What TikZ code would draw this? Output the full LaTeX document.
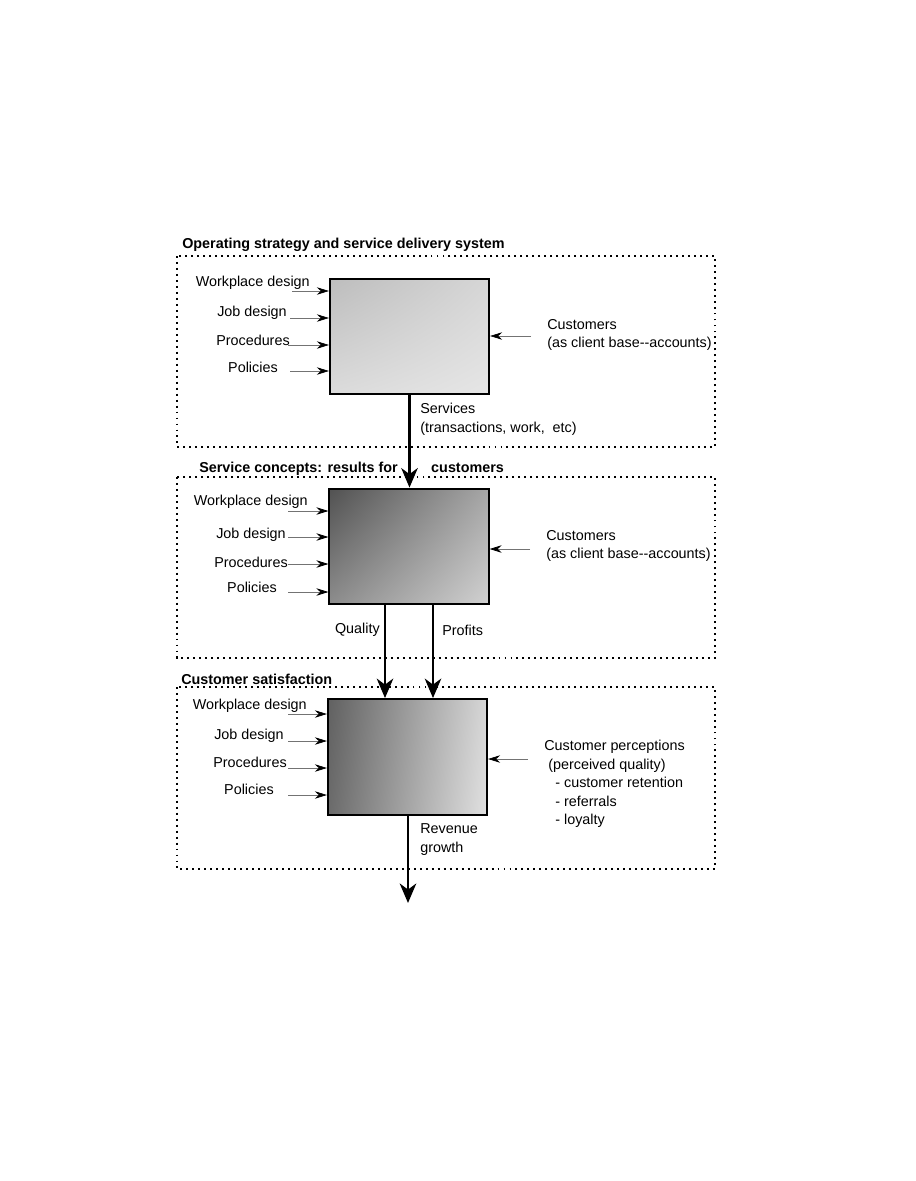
\documentclass[tikz,border=0pt]{standalone}
\usepackage{fontspec}
\setmainfont{Liberation Sans}
\usetikzlibrary{arrows.meta, positioning, calc, shadings}

\begin{document}
\begin{tikzpicture}[
  x=0.0235cm, y=-0.0235cm,
  panel/.style={draw, line width=0.75pt, dash pattern=on 1.3pt off 2.7pt},
  procbox/.style={draw, line width=1.4pt, minimum width=3.74cm, minimum height=2.72cm, inner sep=0pt},
  lbl/.style={inner sep=0pt, font=\fontsize{9.6}{12.4}\selectfont, align=left},
  title/.style={inner sep=0pt, font=\fontsize{9.6}{12.4}\selectfont\bfseries},
  feed/.style={-{Stealth[length=8pt, width=5pt, black]}, draw=black!55, line width=0.5pt},
  flow/.style={-{Stealth[length=13pt, width=11pt, inset=4pt]}, line width=1.8pt}
]
\useasboundingbox (0,0) rectangle (915,1181);

% panels
\draw[panel] (177,256) rectangle (715,447);
\draw[panel] (177,477) rectangle (715,658);
\draw[panel] (177,687) rectangle (715,869);
\node[title, anchor=base west] (opstitle) at (182,248) {Operating strategy and service delivery system};
\node[title, anchor=base west] (svc) at (199,472) {Service concepts: results for};
\node[title, base right=22pt of svc] (svc2) {customers};
\node[title, anchor=base west] (sattitle) at (181,684) {Customer satisfaction};

% boxes
\node[procbox, upper left=black!26, upper right=black!16, lower left=black!14, lower right=black!10] (ops) at (409.5,336.5) {};
\node[procbox, upper left=black!68, upper right=black!35, lower left=black!45, lower right=black!18] (concept) at (409,546.5) {};
\node[procbox, upper left=black!62, upper right=black!16, lower left=black!58, lower right=black!12] (satis) at (407.5,757) {};

% inputs, panel 1
\node[lbl, anchor=east] (wd1) at (310,283) {Workplace design};
\node[lbl, anchor=east] (jd1) at (287,313) {Job design};
\node[lbl, anchor=east] (pr1) at (290,340) {Procedures};
\node[lbl, anchor=east] (po1) at (278,367) {Policies};
\coordinate (wd1s) at (292,291);
\coordinate (jd1s) at (290,318);
\coordinate (pr1s) at (288,345);
\coordinate (po1s) at (290,371);
\draw[feed] (wd1s) -- (wd1s -| ops.west);
\draw[feed] (jd1s) -- (jd1s -| ops.west);
\draw[feed] (pr1s) -- (pr1s -| ops.west);
\draw[feed] (po1s) -- (po1s -| ops.west);
\node[lbl, anchor=west] (cust1) at (547,335) {Customers\\(as client base-{}-accounts)};
\coordinate (c1s) at (531,336);
\draw[feed] (c1s) -- (c1s -| ops.east);

% inputs, panel 2
\node[lbl, anchor=east] (wd2) at (308,502) {Workplace design};
\node[lbl, anchor=east] (jd2) at (286,535) {Job design};
\node[lbl, anchor=east] (pr2) at (288,562) {Procedures};
\node[lbl, anchor=east] (po2) at (277,587) {Policies};
\coordinate (wd2s) at (288,511);
\coordinate (jd2s) at (288,537);
\coordinate (pr2s) at (288,564);
\coordinate (po2s) at (288,592);
\draw[feed] (wd2s) -- (wd2s -| concept.west);
\draw[feed] (jd2s) -- (jd2s -| concept.west);
\draw[feed] (pr2s) -- (pr2s -| concept.west);
\draw[feed] (po2s) -- (po2s -| concept.west);
\node[lbl, anchor=west] (cust2) at (546,546) {Customers\\(as client base-{}-accounts)};
\coordinate (c2s) at (530,549);
\draw[feed] (c2s) -- (c2s -| concept.east);

% inputs, panel 3
\node[lbl, anchor=east] (wd3) at (307,706) {Workplace design};
\node[lbl, anchor=east] (jd3) at (284,736) {Job design};
\node[lbl, anchor=east] (pr3) at (287,762) {Procedures};
\node[lbl, anchor=east] (po3) at (274,789) {Policies};
\coordinate (wd3s) at (288,714);
\coordinate (jd3s) at (288,741);
\coordinate (pr3s) at (288,768);
\coordinate (po3s) at (288,795);
\draw[feed] (wd3s) -- (wd3s -| satis.west);
\draw[feed] (jd3s) -- (jd3s -| satis.west);
\draw[feed] (pr3s) -- (pr3s -| satis.west);
\draw[feed] (po3s) -- (po3s -| satis.west);
\node[lbl, anchor=west] (perc) at (544,784) {Customer perceptions\\\hspace*{2.7pt}(perceived quality)\\\hspace*{7.4pt}- customer retention\\\hspace*{7.4pt}- referrals\\\hspace*{7.4pt}- loyalty};
\coordinate (c3s) at (528,759);
\draw[feed] (c3s) -- (c3s -| satis.east);

% main flow
\coordinate (qx) at (385,0);
\coordinate (px) at (433,0);
\coordinate (rev) at (408,903);
\draw[flow] (ops.south) -- (ops.south |- concept.north);
\draw[flow] (concept.south -| qx) -- (satis.north -| qx);
\draw[flow] (concept.south -| px) -- (satis.north -| px);
\draw[flow] (satis.south -| rev) -- (rev);
\node[lbl, anchor=west] (svclbl) at (420,419.5) {Services\\(transactions, work,\ \ etc)};
\node[lbl, anchor=east] (qlbl) at (380,630) {Quality};
\node[lbl, anchor=west] (plbl) at (442,630) {Profits};
\node[lbl, anchor=west] (revlbl) at (420,839.5) {Revenue\\growth};
\end{tikzpicture}
\end{document}
